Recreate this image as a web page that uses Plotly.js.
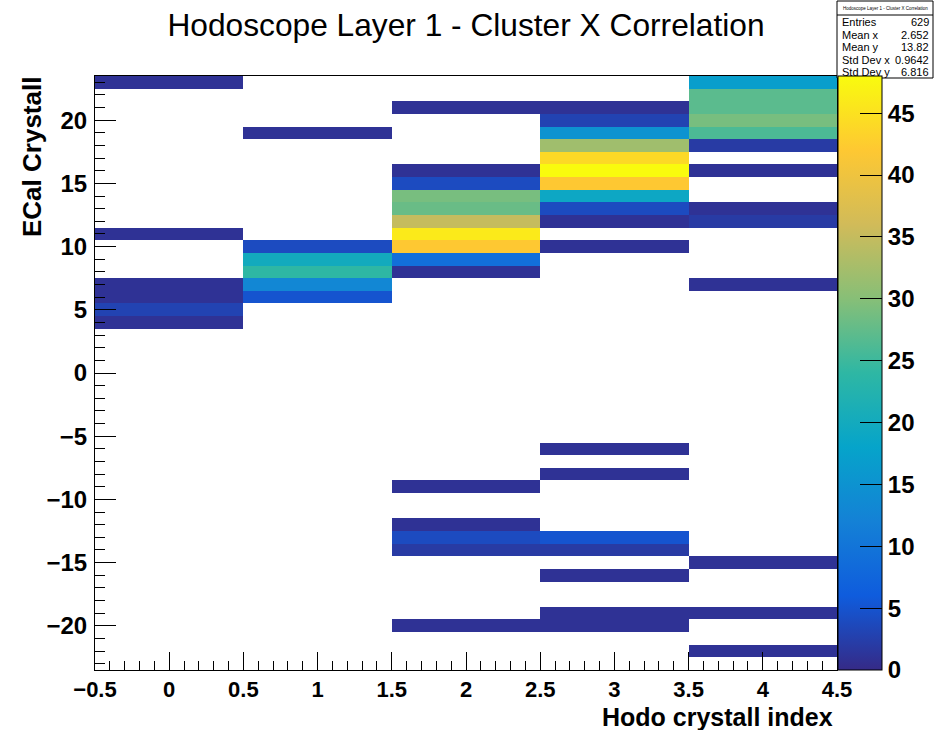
<!DOCTYPE html>
<html>
<head>
<meta charset="utf-8">
<script src="https://cdn.plot.ly/plotly-3.0.1.min.js"></script>
<style>html,body{margin:0;padding:0;background:#fff;}#chart{width:935px;height:730px;}</style>
</head>
<body>
<div id="chart"></div>
<script>
// ---- Data ----
const hodoBins = [0, 1, 2, 3, 4];
const ecalBins = [];
for (let v = -23; v <= 23; v++) ecalBins.push(v);

// Non-empty bins: hodoscope index, ECal crystal, count
const binHodo  = [0,0,0,0,0,0,
                  1,1,1,1,1,1,
                  2,2,2,2,2,2,2,2,2,2,2,2,2,2,2,
                  3,3,3,3,3,3,3,3,3,3,3,3,3,3,3,3,3,3,
                  4,4,4,4,4,4,4,4,4,4,4,4,4];
const binEcal  = [23,11,7,6,5,4,
                  19,10,9,8,7,6,
                  21,16,15,14,13,12,11,10,9,8,-9,-12,-13,-14,-20,
                  21,20,19,18,17,16,15,14,13,12,10,-6,-8,-13,-14,-16,-19,-20,
                  23,22,21,20,19,18,16,13,12,7,-15,-19,-22];
const binCount = [1,1,1,1,3,1,
                  1,4,20,24,13,5,
                  1,1,4,29,28,35,46,42,9,1,1,1,4,2,1,
                  1,3,15,32,44,48,42,19,4,1,1,1,1,5,2,1,1,1,
                  17,27,27,29,26,2,1,1,2,1,1,1,1];

const statsLabels = ["Entries", "Mean x", "Mean y", "Std Dev x", "Std Dev y"];
const statsValues = ["629", "2.652", "13.82", "0.9642", "6.816"];

const titleText = "Hodoscope Layer 1 - Cluster X Correlation";
const xTitle = "Hodo crystall index";
const yTitle = "ECal Crystall";

// ---- Build grid ----
const z = ecalBins.map(() => hodoBins.map(() => null));
for (let i = 0; i < binHodo.length; i++) {
  const r = ecalBins.indexOf(binEcal[i]);
  const c = hodoBins.indexOf(binHodo[i]);
  z[r][c] = binCount[i];
}

// ROOT kBird palette
const bird = [
  [0.000, 'rgb(53,42,135)'],
  [0.125, 'rgb(15,92,221)'],
  [0.250, 'rgb(20,129,214)'],
  [0.375, 'rgb(6,164,202)'],
  [0.500, 'rgb(46,183,164)'],
  [0.625, 'rgb(135,191,119)'],
  [0.750, 'rgb(209,187,89)'],
  [0.875, 'rgb(254,200,50)'],
  [1.000, 'rgb(249,251,14)']
];

// pixel -> paper helpers (plot area 95..837 x 76..670)
const L = 95, R = 837, T = 76, B = 670;
const px = x => (x - L) / (R - L);
const py = y => (B - y) / (B - T);

const FONT = "Liberation Sans, Arial, Helvetica, sans-serif";

const trace = {
  type: 'heatmap',
  x: hodoBins,
  y: ecalBins,
  z: z,
  colorscale: bird,
  zmin: 0,
  zmax: 48,
  zsmooth: false,
  hoverongaps: false,
  colorbar: {
    x: px(838), xanchor: 'left', xpad: 0,
    y: 0.5, yanchor: 'middle', ypad: 0,
    len: 1, lenmode: 'fraction',
    thickness: 44, thicknessmode: 'pixels',
    outlinewidth: 1, outlinecolor: '#000',
    ticks: 'inside', ticklen: 22, tickwidth: 1, tickcolor: '#000',
    tick0: 0, dtick: 5,
    tickfont: {family: FONT, size: 24, color: '#000', weight: 'bold'}
  }
};

const annotations = [
  {text: yTitle, xref: 'paper', yref: 'paper', x: px(32), y: 1, xanchor: 'center', yanchor: 'top',
   textangle: -90, showarrow: false, borderpad: 0, font: {family: FONT, size: 26, color: '#000', weight: 'bold'}},
  {text: xTitle, xref: 'paper', yref: 'paper', x: px(834), y: py(716.5), xanchor: 'right', yanchor: 'middle',
   showarrow: false, borderpad: 0, font: {family: FONT, size: 25, color: '#000', weight: 'bold'}},
  {text: titleText, xref: 'paper', yref: 'paper', x: px(885), y: py(8.5), xanchor: 'center', yanchor: 'middle',
   showarrow: false, font: {family: FONT, size: 4.5, color: '#000'}}
];
const rowY = [22, 34.5, 47, 59.5, 72];
for (let i = 0; i < statsLabels.length; i++) {
  annotations.push({text: statsLabels[i], xref: 'paper', yref: 'paper', x: px(840), y: py(rowY[i]),
    xanchor: 'left', yanchor: 'middle', showarrow: false, font: {family: FONT, size: 11, color: '#000'}});
  annotations.push({text: statsValues[i], xref: 'paper', yref: 'paper', x: px(931), y: py(rowY[i]),
    xanchor: 'right', yanchor: 'middle', showarrow: false, font: {family: FONT, size: 11, color: '#000'}});
}

const shapes = [
  {type: 'rect', xref: 'paper', yref: 'paper', x0: px(837), x1: px(933), y0: py(78), y1: py(1),
   line: {color: '#000', width: 1}, fillcolor: '#fff', layer: 'above'},
  {type: 'line', xref: 'paper', yref: 'paper', x0: px(837), x1: px(933), y0: py(15), y1: py(15),
   line: {color: '#000', width: 1}, layer: 'above'}
];

const layout = {
  width: 935, height: 730,
  margin: {l: L, r: 935 - R, t: T, b: 730 - B, pad: 0, autoexpand: false},
  paper_bgcolor: '#fff', plot_bgcolor: '#fff',
  showlegend: false,
  title: {text: titleText, x: px(466), xref: 'paper', xanchor: 'center', y: 1 - 25 / 730, yanchor: 'middle',
          font: {family: FONT, size: 31.7, color: '#000'}},
  xaxis: {
    range: [-0.5, 4.5], autorange: false,
    showgrid: false, zeroline: false,
    showline: true, linecolor: '#000', linewidth: 1, mirror: true,
    ticks: 'inside', ticklen: 18, tickwidth: 1, tickcolor: '#000',
    tick0: -0.5, dtick: 0.5,
    minor: {ticks: 'inside', ticklen: 9, dtick: 0.1, tick0: -0.5, tickcolor: '#000', tickwidth: 1, showgrid: false},
    tickfont: {family: FONT, size: 22, color: '#000', weight: 'bold'},
    ticklabelstandoff: 0
  },
  yaxis: {
    range: [-23.5, 23.5], autorange: false,
    showgrid: false, zeroline: false,
    showline: true, linecolor: '#000', linewidth: 1, mirror: true,
    ticks: 'inside', ticklen: 21, tickwidth: 1, tickcolor: '#000',
    tick0: 0, dtick: 5,
    minor: {ticks: 'inside', ticklen: 10, dtick: 1, tick0: 0, tickcolor: '#000', tickwidth: 1, showgrid: false},
    tickfont: {family: FONT, size: 24, color: '#000', weight: 'bold'},
    ticklabelstandoff: 2
  },
  annotations: annotations,
  shapes: shapes
};

Plotly.newPlot('chart', [trace], layout, {displayModeBar: false, staticPlot: true});
</script>
</body>
</html>
